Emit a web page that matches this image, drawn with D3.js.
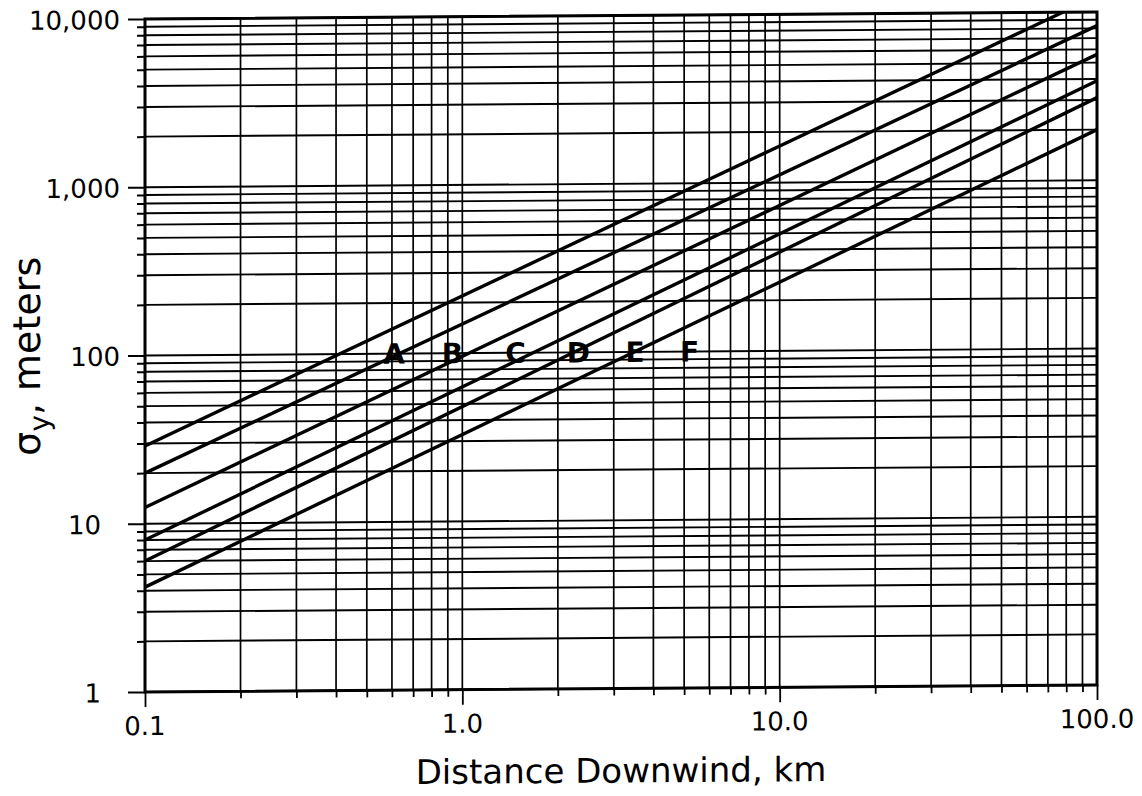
<!DOCTYPE html>
<html>
<head>
<meta charset="utf-8">
<script src="https://cdn.jsdelivr.net/npm/d3@7"></script>
<style>
    body { margin: 0; background: #fff; }
    svg { display: block; }
    text { font-family: "DejaVu Sans", sans-serif; fill: #000; }
</style>
</head>
<body>
<div class="c-chart"></div>
<script>
// stability classes, each line read at its two ends (km, metres)
var classes = ["A", "B", "C", "D", "E", "F"];
var startKm = [0.1, 0.1, 0.1, 0.1, 0.1, 0.1];
var startSigma = [29, 20, 12.5, 8, 6, 4.2];
var endKm = [78, 100, 100, 100, 100, 100];
var endSigma = [10000, 8300, 5600, 3900, 3100, 2000];

// where the class letters sit
var labelKm = [0.61, 0.93, 1.47, 2.32, 3.5, 5.2];
var labelSigma = [100, 100, 100, 100, 100, 100];

var xTickValues = [0.1, 1, 10, 100];
var xTickLabels = ["0.1", "1.0", "10.0", "100.0"];
var yTickValues = [1, 10, 100, 1000, 10000];
var yTickLabels = ["1", "10", "100", "1,000", "10,000"];

var xAxisLabel = "Distance Downwind, km";

var width = 1142, height = 796;
var margin = { top: 19, right: 45, bottom: 104, left: 145 };

var xScale = d3.scaleLog()
    .domain([0.1, 100])
    .range([margin.left, width - margin.right]);

var yScale = d3.scaleLog()
    .domain([1, 10000])
    .range([height - margin.bottom, margin.top]);

var svg = d3.select(".c-chart")
    .append("svg")
    .attr("width", width)
    .attr("height", height);

// the scanned page is a little sheared, right side sits higher
var g = svg.append("g")
    .attr("transform", "translate(" + margin.left + ",0) skewY(-0.42) translate(" + (-margin.left) + ",0)");

var isMajor = function (v) {
    return Math.abs(Math.log10(v) - Math.round(Math.log10(v))) < 1e-9;
};

// grid
g.append("g")
    .selectAll("line")
    .data(xScale.ticks())
    .enter().append("line")
    .attr("x1", function (d) { return xScale(d); })
    .attr("x2", function (d) { return xScale(d); })
    .attr("y1", yScale.range()[0])
    .attr("y2", yScale.range()[1])
    .attr("stroke", "#000")
    .attr("stroke-width", 1.7);

g.append("g")
    .selectAll("line")
    .data(yScale.ticks())
    .enter().append("line")
    .attr("x1", xScale.range()[0])
    .attr("x2", xScale.range()[1])
    .attr("y1", function (d) { return yScale(d); })
    .attr("y2", function (d) { return yScale(d); })
    .attr("stroke", "#000")
    .attr("stroke-width", 1.9);

// outside ticks
function addYAxis() {
    var ax = g.append("g")
        .attr("transform", "translate(" + margin.left + ",0)")
        .call(d3.axisLeft(yScale)
            .tickValues(yScale.ticks())
            .tickSize(8)
            .tickFormat(""));
    ax.select(".domain").remove();
    ax.selectAll(".tick line")
        .attr("stroke-width", 2)
        .attr("x2", function (d) { return isMajor(d) ? -17 : -8; });
}
addYAxis();

function addXAxis() {
    var ax = g.append("g")
        .attr("transform", "translate(0," + yScale.range()[0] + ")")
        .call(d3.axisBottom(xScale)
            .tickValues(xScale.ticks())
            .tickSize(7)
            .tickFormat(""));
    ax.select(".domain").remove();
    ax.selectAll(".tick line")
        .attr("stroke-width", 1.8)
        .attr("y2", function (d) { return isMajor(d) ? 15 : 7; });
}
addXAxis();

// frame
g.append("rect")
    .attr("x", xScale.range()[0])
    .attr("y", yScale.range()[1])
    .attr("width", xScale.range()[1] - xScale.range()[0])
    .attr("height", yScale.range()[0] - yScale.range()[1])
    .attr("fill", "none")
    .attr("stroke", "#000")
    .attr("stroke-width", 3);

// sigma-y lines
var lineData = classes.map(function (c, i) {
    return {
        name: c,
        pts: [{ km: startKm[i], s: startSigma[i] }, { km: endKm[i], s: endSigma[i] }]
    };
});

var line = d3.line()
    .x(function (d) { return xScale(d.km); })
    .y(function (d) { return yScale(d.s); });

g.append("g")
    .selectAll("path")
    .data(lineData)
    .enter().append("path")
    .attr("d", function (d) { return line(d.pts); })
    .attr("fill", "none")
    .attr("stroke", "#000")
    .attr("stroke-width", 3.4);

// class letters
g.append("g")
    .selectAll("text")
    .data(classes)
    .enter().append("text")
    .attr("x", function (d, i) { return xScale(labelKm[i]); })
    .attr("y", function (d, i) { return yScale(labelSigma[i]) + 10; })
    .attr("text-anchor", "middle")
    .style("font-size", "28px")
    .style("font-weight", "bold")
    .text(function (d) { return d; });

// tick labels
g.append("g")
    .selectAll("text")
    .data(xTickValues)
    .enter().append("text")
    .attr("x", function (d) { return xScale(d); })
    .attr("y", yScale.range()[0] + 43)
    .attr("text-anchor", "middle")
    .style("font-size", "26px")
    .text(function (d, i) { return xTickLabels[i]; });

g.append("g")
    .selectAll("text")
    .data(yTickValues)
    .enter().append("text")
    .attr("x", function (d) { return d < 100 ? margin.left - 44 : margin.left - 25; })
    .attr("y", function (d) { return yScale(d) + 10; })
    .attr("text-anchor", "end")
    .style("font-size", "26px")
    .text(function (d, i) { return yTickLabels[i]; });

// axis titles
g.append("text")
    .attr("x", (xScale.range()[0] + xScale.range()[1]) / 2)
    .attr("y", height - 10)
    .attr("text-anchor", "middle")
    .style("font-size", "34px")
    .text(xAxisLabel);

var yt = g.append("text")
    .attr("transform", "translate(40," + ((yScale.range()[0] + yScale.range()[1]) / 2) + ") rotate(-90)")
    .attr("text-anchor", "middle")
    .style("font-size", "38px");
yt.append("tspan").text("\u03c3");
yt.append("tspan").attr("dy", 9).style("font-size", "28px").text("y");
yt.append("tspan").attr("dy", -9).text(", meters");
</script>
</body>
</html>
